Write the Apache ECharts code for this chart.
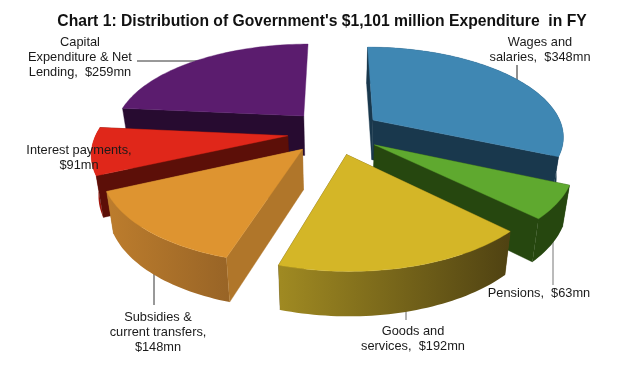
<!DOCTYPE html>
<html><head><meta charset="utf-8">
<style>html,body{margin:0;padding:0;background:#fff}#c{width:626px;height:386px}</style>
<script src="https://cdn.jsdelivr.net/npm/echarts@6/dist/echarts.min.js"></script>
</head><body><div id="c"></div>
<script>
const categories = ["Wages and salaries","Pensions","Goods and services","Subsidies & current transfers","Interest payments","Capital Expenditure & Net Lending"];
const values = [348,63,192,148,91,259];
const topColors = ["#3f87b3","#5fa92f","#d4b627","#de9430","#e0271a","#5b1c6e"];
const wallColors = ["#19384d","#26470f","#5a4a12","#b0762a","#5c0f08","#270b30"];
const rimLeft = ["#19384d","#26470f","#a08a22","#bd7d2d","#c01c10","#270b30"];
const rimRight = ["#19384d","#26470f","#4f4212","#986426","#8a140c","#270b30"];
const drawOrder = [5,0,4,1,3,2];
const hideBackFaces = [5];
const title = "Chart 1: Distribution of Government's $1,101 million Expenditure  in FY";
const labels = [
 {t:"Wages and\nsalaries,  $348mn",x:540,y:34.5,line:[517,65,517,82],c:"#222"},
 {t:"Pensions,  $63mn",x:539,y:285.5,line:[553,240,553,285],c:"#777"},
 {t:"Goods and\nservices,  $192mn",x:413,y:323.5,line:[406,305,406,320],c:"#666"},
 {t:"Subsidies &\ncurrent transfers,\n$148mn",x:158,y:309.5,line:[154,270,154,305],c:"#333"},
 {t:"Interest payments,\n$91mn",x:79,y:142.5},
 {t:"Capital\nExpenditure & Net\nLending,  $259mn",x:80,y:34.5,line:[137,61,200,61],c:"#333"}
];
const cx=334.5, cy=132, a=0.475, D=1120, q=0.97, T=40, Rx=191, Ry=187, E=47;
function P(X,Y,low){
  const p=1/(1-Y/D);
  let x=cx+X*p, y=cy+a*Y*p;
  if(low){x=cx+(x-cx)*q; y+=T*Math.sqrt(p);}
  return [x,y];
}
const total=values.reduce((s,v)=>s+v,0);
const spans=[];let acc=0;
values.forEach(v=>{const s=acc/total*2*Math.PI;acc+=v;spans.push([s,acc/total*2*Math.PI]);});
function slice(i){
  const [s,e]=spans[i],m=(s+e)/2;
  const ox=E*Math.sin(m), oy=-E*Math.cos(m);
  const rim=[];
  const n=Math.max(8,Math.round((e-s)*40));
  for(let k=0;k<=n;k++){const t=s+(e-s)*k/n;rim.push([ox+Rx*Math.sin(t),oy-Ry*Math.cos(t)]);}
  return {ox,oy,rim};
}
function poly(points,fill){return {type:'polygon',shape:{points},style:{fill,stroke:fill,lineWidth:0.4}};}
function renderItem(params){
  const i=drawOrder[params.dataIndex];
  const {ox,oy,rim}=slice(i);
  const els=[];
  const hide=hideBackFaces.includes(i);
  const apexT=P(ox,oy,false),apexB=P(ox,oy,true);
  const wall=(r)=>[apexT,P(r[0],r[1],false),P(r[0],r[1],true),apexB];
  const first=rim[0],last=rim[rim.length-1];
  const facing=(w)=>{const ax=w[1][0]-w[0][0],ay=w[1][1]-w[0][1],bx=w[3][0]-w[0][0],by=w[3][1]-w[0][1];return ax*by-ay*bx;};
  const w1=wall(first),w2=wall(last);
  const front=[];
  if(facing(w1)>0) els.push(poly(w1,wallColors[i])); else front.push(w1);
  if(!hide){
    if(facing(w2)<0) els.push(poly(w2,wallColors[i])); else front.push(w2);
  }
  const tops=rim.map(r=>P(r[0],r[1],false)),lows=rim.map(r=>P(r[0],r[1],true));
  if(!hide){
    const xs=tops.concat(lows).map(p=>p[0]);
    const x0=Math.min(...xs),x1=Math.max(...xs);
    const rimEl=poly(tops.concat(lows.slice().reverse()),{type:'linear',global:true,x:x0,y:0,x2:x1,y2:0,colorStops:[{offset:0,color:rimLeft[i]},{offset:1,color:rimRight[i]}]});
    rimEl.style.stroke=null;
    els.push(rimEl);
  }
  front.forEach(w=>els.push(poly(w,wallColors[i])));
  els.push(poly([apexT].concat(tops),topColors[i]));
  return {type:'group',children:els};
}
const graphic=[];
labels.forEach(l=>{
  if(l.line) graphic.push({type:'line',z:1,shape:{x1:l.line[0],y1:l.line[1],x2:l.line[2],y2:l.line[3]},style:{stroke:l.c,lineWidth:1}});
  graphic.push({type:'text',z:11,x:l.x,y:l.y,style:{text:l.t,fill:'#1a1a1a',font:'12.8px "Liberation Sans"',lineHeight:15,align:'center',verticalAlign:'top'}});
});
const chart=echarts.init(document.getElementById('c'),null,{renderer:'canvas'});
chart.setOption({
  animation:false,backgroundColor:'#fff',
  title:{text:title,left:317,top:9,textAlign:'center',textStyle:{fontFamily:'Liberation Sans',fontWeight:'bold',fontSize:15.7,color:'#111'}},
  xAxis:{show:false},yAxis:{show:false},
  series:[{type:'custom',coordinateSystem:'none',renderItem,silent:true,z:2,data:drawOrder.map(i=>values[i])}],
  graphic:{elements:graphic}
});
</script></body></html>
